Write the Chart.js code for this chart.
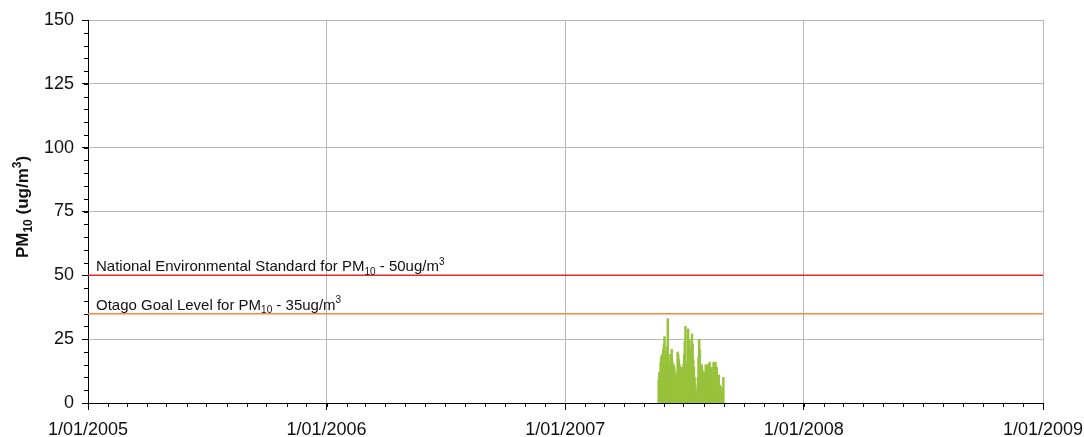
<!DOCTYPE html>
<html>
<head>
<meta charset="utf-8">
<script src="https://cdn.jsdelivr.net/npm/chart.js@4/dist/chart.umd.min.js"></script>
<style>
    html, body { margin: 0; padding: 0; background: #ffffff; }
    #wrap { width: 1084px; height: 437px; }
</style>
</head>
<body>
<div id="wrap"><canvas id="chart" width="1084" height="437"></canvas></div>
<script>
// days counted from 1/01/2005
const yearTickDays = [0, 365, 730, 1095, 1461];
const yearTickLabels = ['1/01/2005', '1/01/2006', '1/01/2007', '1/01/2008', '1/01/2009'];
const monthTickDays = [];
const yTicks = [0, 25, 50, 75, 100, 125, 150];

// daily PM10 from 24/05/2007 (day 873)
const pm10StartDay = 873;
const pm10Values = [
    9, 12, 7, 16, 18, 19, 19, 21, 23, 26, 20, 2, 10, 22, 33, 15, 12, 14,
    19, 17, 21, 16, 13, 15, 14, 12, 11, 6, 10, 20, 19, 17, 15, 13, 11, 14,
    12, 10, 15, 19, 24, 30, 14, 12, 16, 29, 21, 25, 22, 20, 19, 27, 23, 17,
    14, 10, 7, 4, 5, 4, 10, 18, 25, 21, 14, 9, 15, 13, 12, 12, 10, 12,
    15, 13, 15, 0, 0, 15, 16, 13, 14, 14, 12, 10, 16, 14, 12, 16, 13, 14,
    10, 9, 11, 6, 7, 6, 6, 4, 3, 10
];

const nesLevel = 50;
const goalLevel = 35;

(function () {
    const monthLengths = [31, 28, 31, 30, 31, 30, 31, 31, 30, 31, 30, 31];
    let day = 0;
    for (let year = 2005; year <= 2008; year++) {
        for (let m = 0; m < 12; m++) {
            monthTickDays.push(day);
            let len = monthLengths[m];
            if (m === 1 && year % 4 === 0) {
                len = 29;
            }
            day += len;
        }
    }
})();

const barData = pm10Values.map(function (v, i) {
    return { x: pm10StartDay + i, y: v };
});

const FONT = "'Liberation Sans', Arial, sans-serif";

function drawRich(ctx, parts, x, y, size, bold) {
    const weight = bold ? 'bold ' : '';
    let cx = x;
    parts.forEach(function (p) {
        let fs = size;
        let dy = 0;
        if (p.mode === 'sub') {
            fs = Math.round(size * 0.68);
            dy = size * 0.22;
        } else if (p.mode === 'sup') {
            fs = Math.round(size * 0.68);
            dy = -size * 0.42;
        }
        ctx.font = weight + fs + 'px ' + FONT;
        ctx.fillText(p.t, cx, y + dy);
        cx += ctx.measureText(p.t).width;
    });
}

function richWidth(ctx, parts, size, bold) {
    const weight = bold ? 'bold ' : '';
    let w = 0;
    parts.forEach(function (p) {
        const fs = p.mode === 'n' ? size : Math.round(size * 0.68);
        ctx.font = weight + fs + 'px ' + FONT;
        w += ctx.measureText(p.t).width;
    });
    return w;
}

const annotationPlugin = {
    id: 'annotations',
    afterDraw: function (chart) {
        const ctx = chart.ctx;
        const xs = chart.scales.x;
        const ys = chart.scales.y;
        const area = chart.chartArea;
        ctx.save();
        ctx.strokeStyle = '#000000';
        ctx.lineWidth = 1;

        // minor month ticks
        ctx.beginPath();
        monthTickDays.forEach(function (d) {
            const px = Math.round(xs.getPixelForValue(d)) + 0.5;
            ctx.moveTo(px, area.bottom);
            ctx.lineTo(px, area.bottom + 4);
        });
        // minor y ticks
        for (let v = 0; v <= 150; v += 5) {
            const py = Math.round(ys.getPixelForValue(v)) + 0.5;
            ctx.moveTo(area.left - 4, py);
            ctx.lineTo(area.left, py);
        }
        ctx.stroke();

        // standard labels
        ctx.fillStyle = '#111111';
        ctx.textBaseline = 'alphabetic';
        ctx.textAlign = 'left';
        drawRich(ctx, [
            { t: 'National Environmental Standard for PM', mode: 'n' },
            { t: '10', mode: 'sub' },
            { t: ' - 50ug/m', mode: 'n' },
            { t: '3', mode: 'sup' }
        ], area.left + 8, ys.getPixelForValue(nesLevel) - 4, 15, false);
        drawRich(ctx, [
            { t: 'Otago Goal Level for PM', mode: 'n' },
            { t: '10', mode: 'sub' },
            { t: ' - 35ug/m', mode: 'n' },
            { t: '3', mode: 'sup' }
        ], area.left + 8, ys.getPixelForValue(goalLevel) - 4, 15, false);

        // y axis title
        const titleParts = [
            { t: 'PM', mode: 'n' },
            { t: '10', mode: 'sub' },
            { t: ' (ug/m', mode: 'n' },
            { t: '3', mode: 'sup' },
            { t: ')', mode: 'n' }
        ];
        const tw = richWidth(ctx, titleParts, 17, true);
        ctx.translate(28, 207);
        ctx.rotate(-Math.PI / 2);
        drawRich(ctx, titleParts, -tw / 2, 0, 17, true);
        ctx.restore();
    }
};

new Chart(document.getElementById('chart'), {
    type: 'bar',
    data: {
        datasets: [
            {
                type: 'line',
                data: [{ x: 0, y: nesLevel }, { x: 1461, y: nesLevel }],
                borderColor: '#e42a2a',
                borderWidth: 1.5,
                pointRadius: 0,
                order: 1
            },
            {
                type: 'line',
                data: [{ x: 0, y: goalLevel }, { x: 1461, y: goalLevel }],
                borderColor: '#f5883a',
                borderWidth: 1.5,
                pointRadius: 0,
                order: 1
            },
            {
                data: barData,
                backgroundColor: '#98c23b',
                borderWidth: 0,
                barThickness: 1.8,
                order: 2
            }
        ]
    },
    options: {
        responsive: false,
        animation: false,
        layout: { padding: { top: 20, right: 41, left: 0, bottom: 0 } },
        plugins: {
            legend: { display: false },
            tooltip: { enabled: false }
        },
        scales: {
            x: {
                type: 'linear',
                min: 0,
                max: 1461,
                offset: false,
                afterBuildTicks: function (scale) {
                    scale.ticks = yearTickDays.map(function (d) { return { value: d }; });
                },
                afterFit: function (scale) {
                    scale.height = 34;
                    scale.paddingLeft = 0;
                    scale.paddingRight = 0;
                },
                grid: {
                    offset: false,
                    color: '#b8b8b8',
                    tickColor: '#000000',
                    tickLength: 7
                },
                border: { color: '#000000' },
                ticks: {
                    color: '#111111',
                    font: { family: FONT, size: 18 },
                    padding: 9,
                    maxRotation: 0,
                    autoSkip: false,
                    callback: function (value, index) {
                        return yearTickLabels[index];
                    }
                }
            },
            y: {
                min: 0,
                max: 150,
                afterBuildTicks: function (scale) {
                    scale.ticks = yTicks.map(function (v) { return { value: v }; });
                },
                afterFit: function (scale) { scale.width = 88; },
                grid: {
                    color: '#b8b8b8',
                    tickColor: '#000000',
                    tickLength: 6
                },
                border: { color: '#000000' },
                ticks: {
                    color: '#111111',
                    font: { family: FONT, size: 18 },
                    padding: 8
                }
            }
        }
    },
    plugins: [annotationPlugin]
});
</script>
</body>
</html>
